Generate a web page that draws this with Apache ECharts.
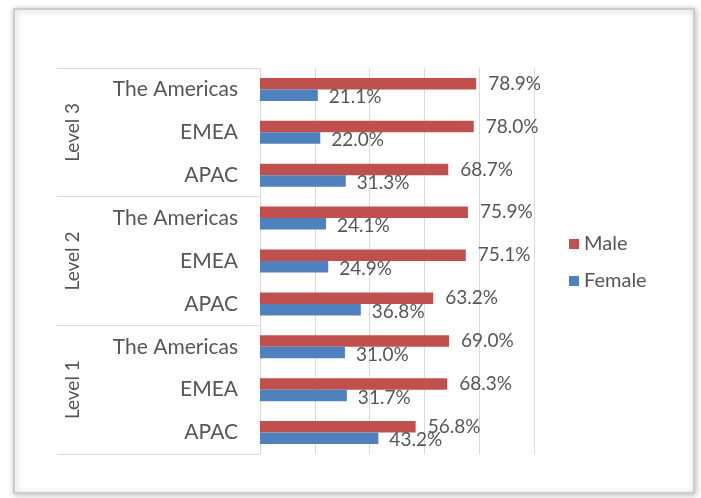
<!DOCTYPE html>
<html>
<head>
<meta charset="utf-8">
<script src="https://cdn.jsdelivr.net/npm/echarts@6/dist/echarts.min.js"></script>
<style>
html,body{margin:0;padding:0;background:#fff;}
#c{width:701px;height:498px;}
</style>
</head>
<body>
<div id="c"></div>
<script>
// bottom-to-top order, as in the source chart
var regions = ['APAC','EMEA','The Americas','APAC','EMEA','The Americas','APAC','EMEA','The Americas'];
var levels = ['Level 1','Level 2','Level 3'];
var male = [56.8, 68.3, 69.0, 63.2, 75.1, 75.9, 68.7, 78.0, 78.9];
var female = [43.2, 31.7, 31.0, 36.8, 24.9, 24.1, 31.3, 22.0, 21.1];
var xTicks = [0, 20, 40, 60, 80, 100];

var FONT = 'Lato';
var TXT = '#565656';
var chart = echarts.init(document.getElementById('c'), null, {renderer:'canvas'});
chart.setOption({
  animation: false,
  textStyle: {fontFamily: FONT},
  graphic: [{
    type: 'rect', z: -10,
    shape: {x: 14, y: 9, width: 680, height: 484},
    style: {fill: '#fff', stroke: '#cccccc', lineWidth: 2,
      shadowBlur: 6, shadowColor: 'rgba(0,0,0,0.25)', shadowOffsetX: 1, shadowOffsetY: 1}
  }],
  legend: {
    orient: 'vertical', left: 564, top: 229,
    data: ['Male', 'Female'],
    itemWidth: 10, itemHeight: 10, itemGap: 17,
    icon: 'rect',
    textStyle: {color: TXT, fontSize: 20, fontFamily: FONT}
  },
  grid: {left: 260, right: 167, top: 68, bottom: 44},
  xAxis: {
    type: 'value', min: xTicks[0], max: xTicks[xTicks.length-1], interval: 20,
    axisLabel: {show: false}, axisLine: {show: false}, axisTick: {show: false},
    splitLine: {show: true, lineStyle: {color: '#d9d9d9', width: 1}}
  },
  yAxis: [{
    type: 'category', data: regions, position: 'left',
    axisLine: {show: false}, axisTick: {show: false},
    axisLabel: {color: TXT, fontSize: 21, margin: 22, fontFamily: FONT}
  }, {
    type: 'category', data: levels, position: 'left',
    axisLine: {show: true, lineStyle: {color: '#d9d9d9'}},
    axisTick: {show: true, length: 203, inside: false, alignWithLabel: false, lineStyle: {color: '#d9d9d9'}},
    axisLabel: {color: TXT, fontSize: 19, rotate: 90, margin: 178, fontFamily: FONT}
  }],
  series: [{
    name: 'Male', type: 'bar', data: male, yAxisIndex: 0,
    barWidth: 11.5, barGap: '0%',
    itemStyle: {color: '#C0504D'},
    label: {show: true, position: 'right', distance: 12,
      formatter: function(p){return p.value.toFixed(1) + '%';},
      color: TXT, fontSize: 19, fontFamily: FONT}
  }, {
    name: 'Female', type: 'bar', data: female, yAxisIndex: 0,
    barWidth: 11.5, barGap: '0%',
    itemStyle: {color: '#4F81BD'},
    label: {show: true, position: 'right', distance: 11, offset: [0, 2],
      formatter: function(p){return p.value.toFixed(1) + '%';},
      color: TXT, fontSize: 19, fontFamily: FONT}
  }]
});
</script>
</body>
</html>
